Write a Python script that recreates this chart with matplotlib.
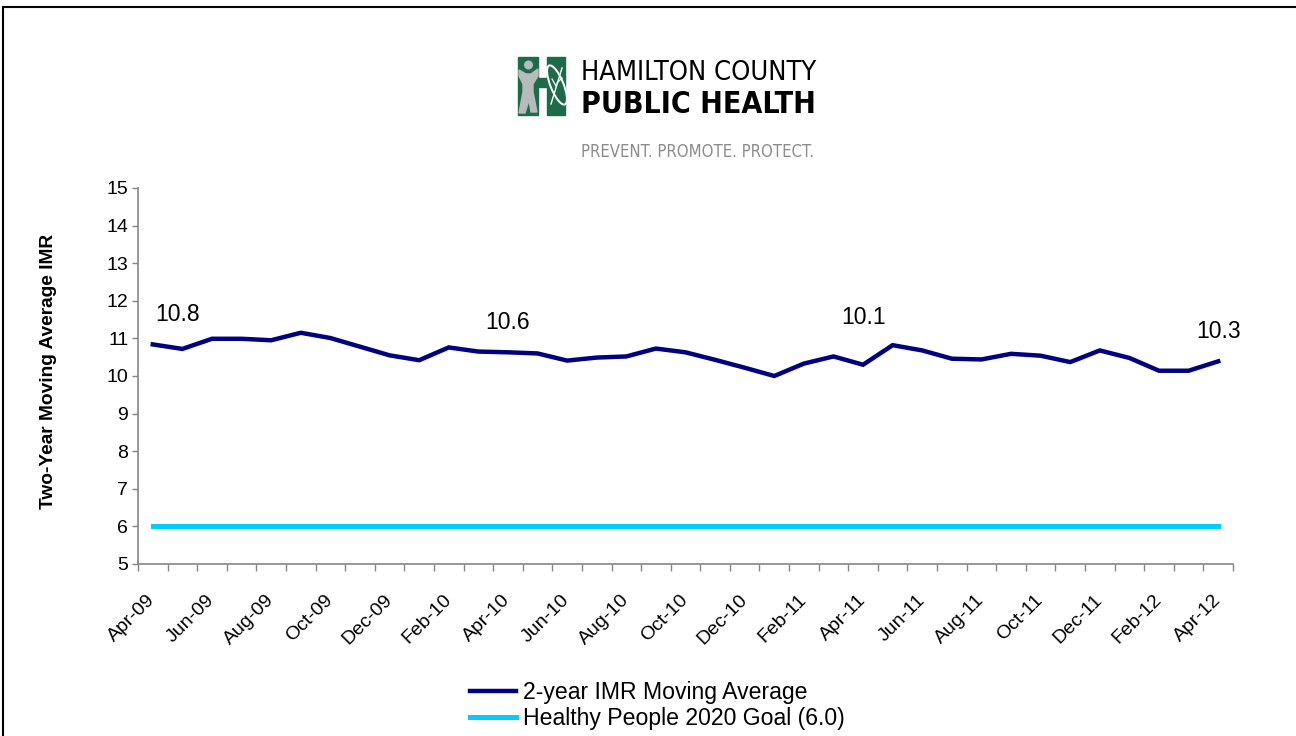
import matplotlib
matplotlib.use("Agg")
import matplotlib.pyplot as plt
import matplotlib.patches as mpatches
from matplotlib import font_manager as fm
import numpy as np

# Two-year moving average IMR, monthly Apr-09 .. Apr-12
imr = [10.84, 10.72, 10.99, 10.99, 10.95, 11.15, 11.01, 10.78, 10.55, 10.42,
       10.76, 10.65, 10.63, 10.60, 10.41, 10.49, 10.52, 10.73, 10.63, 10.43,
       10.22, 10.00, 10.33, 10.52, 10.30, 10.82, 10.68, 10.46, 10.44, 10.59,
       10.54, 10.37, 10.68, 10.48, 10.14, 10.14, 10.39]
goal = 6.0
tick_labels = ['Apr-09', 'Jun-09', 'Aug-09', 'Oct-09', 'Dec-09', 'Feb-10', 'Apr-10',
               'Jun-10', 'Aug-10', 'Oct-10', 'Dec-10', 'Feb-11', 'Apr-11', 'Jun-11',
               'Aug-11', 'Oct-11', 'Dec-11', 'Feb-12', 'Apr-12']
# data labels shown on the chart (index, text)
callouts = [(0, '10.8'), (12, '10.6'), (24, '10.1'), (36, '10.3')]

plt.rcParams['font.family'] = ['Liberation Sans', 'DejaVu Sans']

fig = plt.figure(figsize=(12.96, 7.36), dpi=100)
ax = fig.add_axes([138 / 1296, 1 - 564 / 736, (1233 - 138) / 1296, (564 - 188) / 736])

x = np.arange(len(imr))
ax.plot(x, imr, color='#000080', lw=3.2, solid_joinstyle='miter',
        label='2-year IMR Moving Average', zorder=3)
ax.plot(x, [goal] * len(x), color='#00CCFF', lw=3.6,
        label='Healthy People 2020 Goal (6.0)', zorder=2)

offsets = {0: (18, 17), 12: (0, 17), 24: (0, 29), 36: (0, 17)}
for i, txt in callouts:
    ax.annotate(txt, (x[i], imr[i]), xytext=offsets[i], textcoords='offset points',
                ha='center', va='baseline', fontsize=16.5)

ax.set_xlim(-0.5, len(imr) - 0.5)
ax.set_ylim(5, 15)
ax.set_yticks(range(5, 16))
ax.tick_params(axis='y', labelsize=14, length=4, width=1, color='#868686', pad=3)

ax.set_xticks(np.arange(-0.5, len(imr), 1.0))
ax.set_xticklabels([])
ax.tick_params(axis='x', which='major', length=5, width=1, color='#868686')
ax.set_xticks(x[::2], minor=True)
ax.set_xticklabels(tick_labels, minor=True, rotation=45, ha='right', va='center',
                   rotation_mode='anchor', fontsize=14)
ax.tick_params(axis='x', which='minor', length=0, pad=24)

for s in ['top', 'right']:
    ax.spines[s].set_visible(False)
for s in ['left', 'bottom']:
    ax.spines[s].set_color('#868686')
    ax.spines[s].set_linewidth(1.2)

ax.set_ylabel('Two-Year Moving Average IMR', fontsize=13.8, fontweight='bold', va='center')
ax.yaxis.set_label_coords(-0.082, 0.513)

leg = fig.legend(loc='upper left', bbox_to_anchor=(470 / 1296, 1 - 681 / 736),
                 frameon=False, fontsize=16.6, handlelength=2.0, handletextpad=0.3,
                 labelspacing=0.15, borderpad=0, borderaxespad=0)

# outer frame
fig.patches.append(mpatches.Rectangle((3 / 1296, -0.05), 1.1, 1 - 7 / 736 + 0.05,
                                      transform=fig.transFigure, fill=False,
                                      edgecolor='black', lw=1.5))

# logo overlay in pixel coordinates
lg = fig.add_axes([0, 0, 1, 1], zorder=5)
lg.set_xlim(0, 1296)
lg.set_ylim(736, 0)
lg.axis('off')
green = '#1E6B4C'
grey = '#B8BABC'
lg.add_patch(mpatches.Rectangle((518, 57), 20, 58, color=green))
lg.add_patch(mpatches.Rectangle((547, 57), 18, 58, color=green))
lg.add_patch(mpatches.Rectangle((537, 78), 11, 9, color=green))
lg.add_patch(mpatches.Circle((528.5, 65), 3.8, color=grey))
lg.add_patch(mpatches.Polygon([(519, 70), (526, 74), (531, 74), (538, 69), (538, 76),
                               (533, 84), (533, 92), (537, 112), (531, 112), (529, 100),
                               (525, 113), (519, 113), (523, 92), (523, 84), (519, 76)],
                              closed=True, color=grey))
lg.add_patch(mpatches.Ellipse((557, 85), 13, 42, angle=-22, fill=False,
                              edgecolor='white', lw=1.4))
lg.plot([551, 562], [104, 68], color='white', lw=1.0)
lg.plot([556, 552], [86, 79], color='white', lw=0.9)
lg.plot([557, 562], [83, 78], color='white', lw=0.9)


def narrow_font(bold):
    # pick a condensed sans face if the system has one
    for f in fm.fontManager.ttflist:
        nm = f.name.lower()
        cond = ('narrow' in nm or 'condensed' in nm or
                str(f.stretch) in ('condensed', 'semi-condensed', 'extra-condensed'))
        heavy = f.weight in ('bold', 700, 'heavy', 800)
        if cond and 'sans' in nm or cond and 'roboto' in nm:
            if heavy == bold and f.style == 'normal':
                return fm.FontProperties(fname=f.fname)
    return fm.FontProperties(family='Liberation Sans', weight='bold' if bold else 'normal')


def fit_text(x0, y0, s, size, width, bold=False, color='black'):
    t = lg.text(x0, y0, s, fontproperties=narrow_font(bold), color=color,
                va='baseline', ha='left')
    t.set_fontsize(size)
    r = fig.canvas.get_renderer()
    w = t.get_window_extent(renderer=r).width
    if w > width:
        t.set_fontsize(size * width / w)
    return t


fit_text(581, 80, 'HAMILTON COUNTY', 21, 235)
fit_text(581, 113, 'PUBLIC HEALTH', 27, 235, bold=True)
fit_text(581, 157, 'PREVENT. PROMOTE. PROTECT.', 12, 234, color='#8C8C8C')

fig.savefig('out.png', dpi=100)
